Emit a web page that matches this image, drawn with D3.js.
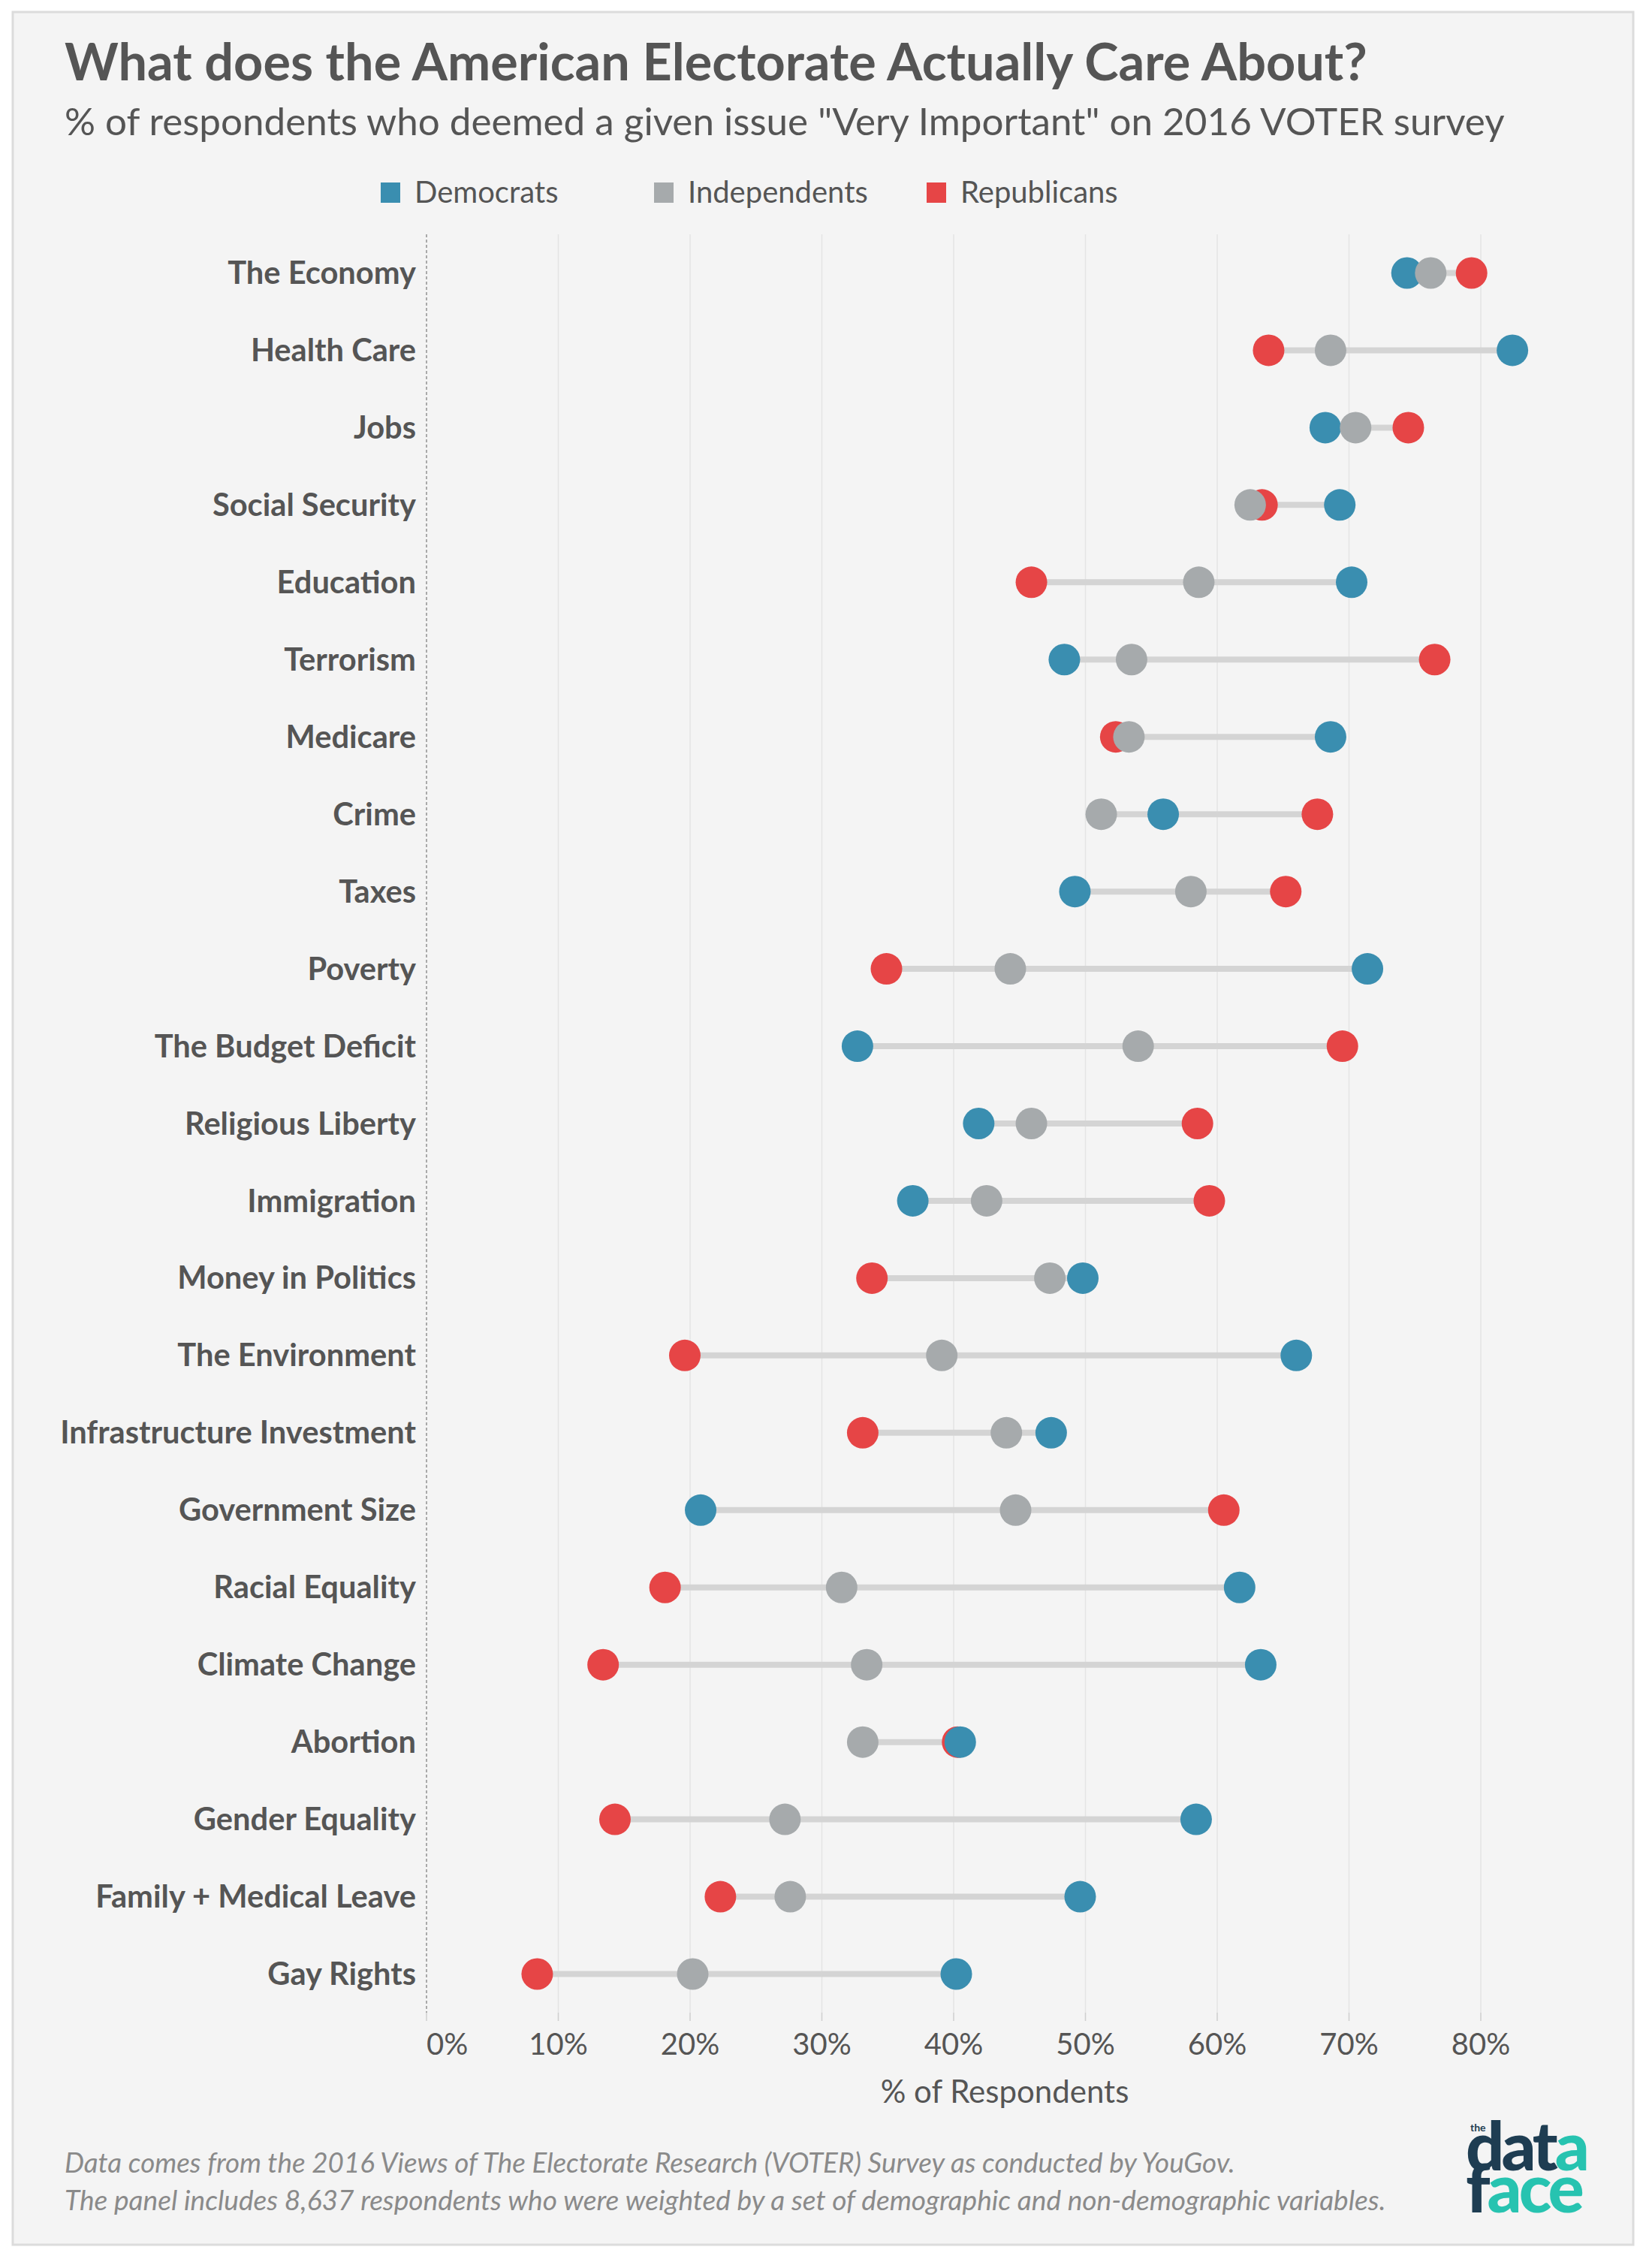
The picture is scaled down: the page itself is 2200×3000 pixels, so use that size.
<!DOCTYPE html>
<html><head><meta charset="utf-8">
<script src="https://cdn.jsdelivr.net/npm/d3@7"></script>
<style>body{margin:0;background:#fff}</style>
</head><body><svg id="chart" width="2200" height="3000"></svg>
<script>
const issues = ["The Economy","Health Care","Jobs","Social Security","Education","Terrorism","Medicare","Crime","Taxes","Poverty","The Budget Deficit","Religious Liberty","Immigration","Money in Politics","The Environment","Infrastructure Investment","Government Size","Racial Equality","Climate Change","Abortion","Gender Equality","Family + Medical Leave","Gay Rights"];
const democrats    = [74.4,82.4,68.2,69.3,70.2,48.4,68.6,55.9,49.2,71.4,32.7,41.9,36.9,49.8,66.0,47.4,20.8,61.7,63.3,40.5,58.4,49.6,40.2];
const independents = [76.2,68.6,70.5,62.5,58.6,53.5,53.3,51.2,58.0,44.3,54.0,45.9,42.5,47.3,39.1,44.0,44.7,31.5,33.4,33.1,27.2,27.6,20.2];
const republicans  = [79.3,63.9,74.5,63.4,45.9,76.5,52.3,67.6,65.2,34.9,69.5,58.5,59.4,33.8,19.6,33.1,60.5,18.1,13.4,40.3,14.3,22.3,8.4];
const seriesNames  = ["Democrats","Independents","Republicans"];
const seriesColors = ["#3a8eb0","#a6aaac","#e64546"];
const tickValues   = [0,10,20,30,40,50,60,70,80];
const tickLabels   = ["0%","10%","20%","30%","40%","50%","60%","70%","80%"];

const FONT = "Lato, 'Open Sans', sans-serif";
const svg = d3.select("#chart");

function fitWidth(sel, target){
  const w = sel.node().getComputedTextLength();
  const fs = parseFloat(sel.attr("font-size"));
  sel.attr("font-size", fs*target/w);
}

// panel
svg.append("rect").attr("x",17).attr("y",16).attr("width",2158).attr("height",2973)
  .attr("fill","#f4f4f4").attr("stroke","#dcdcdc").attr("stroke-width",3);

// title / subtitle
const title = svg.append("text").attr("x",86).attr("y",107).attr("font-family",FONT)
  .attr("font-weight",700).attr("font-size",62).attr("fill","#555")
  .text("What does the American Electorate Actually Care About?");
fitWidth(title,1735);
const sub = svg.append("text").attr("x",86).attr("y",180).attr("font-family",FONT)
  .attr("font-size",46).attr("fill","#555")
  .text('% of respondents who deemed a given issue "Very Important" on 2016 VOTER survey');
fitWidth(sub,1918);

// legend
const legendX = [507,871,1234];
seriesNames.forEach((n,i)=>{
  svg.append("rect").attr("x",legendX[i]).attr("y",243).attr("width",26).attr("height",27).attr("fill",seriesColors[i]);
  svg.append("text").attr("x",legendX[i]+45).attr("y",270).attr("font-family",FONT)
    .attr("font-size",40).attr("fill","#555").text(n);
});

const x = d3.scaleLinear().domain([0,80]).range([568,1972]);
const y = d3.scaleBand().domain(issues).range([312,2680]);
const yTop = 312, yBot = 2680;

// gridlines
svg.append("g").selectAll("line").data(tickValues.filter(v=>v>0)).join("line")
  .attr("x1",d=>x(d)).attr("x2",d=>x(d)).attr("y1",yTop).attr("y2",yBot)
  .attr("stroke","#e4e4e4").attr("stroke-width",1.5);
// tick marks
svg.append("g").selectAll("line").data(tickValues).join("line")
  .attr("x1",d=>x(d)).attr("x2",d=>x(d)).attr("y1",yBot).attr("y2",yBot+11)
  .attr("stroke","#cfcfcf").attr("stroke-width",1.5);
// zero line
svg.append("line").attr("x1",x(0)).attr("x2",x(0)).attr("y1",yTop).attr("y2",yBot)
  .attr("stroke","#777").attr("stroke-width",1.2).attr("stroke-dasharray","4,3");

// tick labels
svg.append("g").selectAll("text").data(tickValues).join("text")
  .attr("x",d=>x(d)).attr("y",2736)
  .attr("text-anchor",(d,i)=>i===0?"start":"middle")
  .attr("font-family",FONT).attr("font-size",40).attr("fill","#555")
  .text((d,i)=>tickLabels[i]);
svg.append("text").attr("x",1338).attr("y",2800).attr("text-anchor","middle")
  .attr("font-family",FONT).attr("font-size",42).attr("fill","#555").text("% of Respondents");

// row labels
const labels = svg.append("g").selectAll("text").data(issues).join("text")
  .attr("x",554).attr("y",d=>y(d)+y.bandwidth()/2).attr("dy","0.35em")
  .attr("text-anchor","end").attr("font-family",FONT).attr("font-weight",700)
  .attr("font-size",40).attr("fill","#555").text(d=>d);
{
  const widest = labels.nodes()[issues.indexOf("Infrastructure Investment")].getComputedTextLength();
  labels.attr("font-size",40*474/widest);
}

// connecting lines
const rows = issues.map((d,i)=>({issue:d, vals:[democrats[i],independents[i],republicans[i]]}));
svg.append("g").selectAll("line").data(rows).join("line")
  .attr("x1",d=>x(d3.min(d.vals))).attr("x2",d=>x(d3.max(d.vals)))
  .attr("y1",d=>y(d.issue)+y.bandwidth()/2).attr("y2",d=>y(d.issue)+y.bandwidth()/2)
  .attr("stroke","#d4d4d4").attr("stroke-width",8);

// dots: republicans, democrats, independents (draw order)
[[republicans,2],[democrats,0],[independents,1]].forEach(([arr,ci])=>{
  svg.append("g").selectAll("circle").data(issues).join("circle")
    .attr("cx",(d,i)=>x(arr[i])).attr("cy",d=>y(d)+y.bandwidth()/2)
    .attr("r",21).attr("fill",seriesColors[ci]);
});

// footer
const f1 = svg.append("text").attr("x",86).attr("y",2893).attr("font-family",FONT).attr("font-style","italic")
  .attr("font-size",31).attr("fill","#8a8a8a")
  .text("Data comes from the 2016 Views of The Electorate Research (VOTER) Survey as conducted by YouGov.");
fitWidth(f1,1559);
const f2 = svg.append("text").attr("x",86).attr("y",2943).attr("font-family",FONT).attr("font-style","italic")
  .attr("font-size",31).attr("fill","#8a8a8a")
  .text("The panel includes 8,637 respondents who were weighted by a set of demographic and non-demographic variables.");
fitWidth(f2,1760);

// logo (single text element)
const logo = svg.append("text").attr("font-family",FONT).attr("font-weight",900);
logo.append("tspan").attr("x",1958).attr("y",2838).attr("font-size",14).attr("font-weight",700).attr("fill","#1e3d52").text("the");
logo.append("tspan").attr("x",1952).attr("y",2890).attr("font-size",90).attr("letter-spacing",-4).attr("fill","#1e3d52").text("dat");
logo.append("tspan").attr("font-size",90).attr("letter-spacing",-4).attr("fill","#27c3b0").text("a");
logo.append("tspan").attr("x",1952).attr("y",2946).attr("font-size",90).attr("letter-spacing",-4).attr("fill","#1e3d52").text("f");
logo.append("tspan").attr("font-size",90).attr("letter-spacing",-4).attr("fill","#27c3b0").text("ace");
</script></body></html>
